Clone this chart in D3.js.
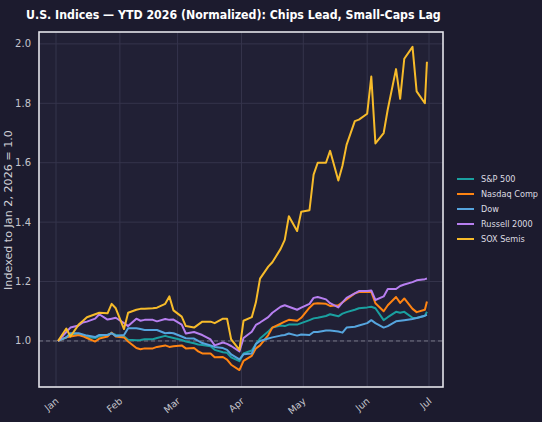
<!DOCTYPE html>
<html>
<head>
<meta charset="utf-8">
<script src="https://cdn.jsdelivr.net/npm/d3@7"></script>
<style>
  html, body { margin: 0; padding: 0; background: #1c1b2e; }
  svg { display: block; font-family: "DejaVu Sans", sans-serif; }
  .cond { font-family: "DejaVu Sans Condensed", "DejaVu Sans", sans-serif; font-stretch: condensed; }
</style>
</head>
<body>
<svg id="chart" width="542" height="422"></svg>
<script>
// sample dates (every other trading day + last day)
const dates = [
  "2026-01-02","2026-01-06","2026-01-08","2026-01-12","2026-01-14","2026-01-16","2026-01-20","2026-01-22","2026-01-26","2026-01-28","2026-01-30",
  "2026-02-03","2026-02-05","2026-02-09","2026-02-11","2026-02-13","2026-02-17","2026-02-19","2026-02-23","2026-02-25","2026-02-27",
  "2026-03-03","2026-03-05","2026-03-09","2026-03-11","2026-03-13","2026-03-17","2026-03-19","2026-03-23","2026-03-25","2026-03-27","2026-03-31",
  "2026-04-02","2026-04-06","2026-04-08","2026-04-10","2026-04-14","2026-04-16","2026-04-20","2026-04-22","2026-04-24","2026-04-28","2026-04-30",
  "2026-05-04","2026-05-06","2026-05-08","2026-05-12","2026-05-14","2026-05-18","2026-05-20","2026-05-22","2026-05-26","2026-05-28",
  "2026-06-01","2026-06-03","2026-06-05","2026-06-09","2026-06-11","2026-06-15","2026-06-17","2026-06-19","2026-06-23","2026-06-25","2026-06-29","2026-06-30"
];

const spx = [1.000,1.012,1.020,1.022,1.018,1.013,1.010,1.016,1.020,1.026,
  1.020,1.016,1.004,1.002,1.003,1.006,1.006,1.010,1.017,1.013,
  1.010,1.003,0.998,0.992,0.988,0.986,0.982,0.970,0.962,0.960,
  0.945,0.932,0.958,0.968,0.990,1.008,1.032,1.045,1.052,1.050,
  1.055,1.055,1.060,1.070,1.076,1.078,1.084,1.090,1.083,1.092,
  1.097,1.105,1.110,1.113,1.115,1.110,1.070,1.080,1.098,1.095,
  1.098,1.078,1.077,1.085,1.098];

const nasdaq = [1.000,1.012,1.015,1.020,1.016,1.010,0.998,1.008,1.015,1.028,
  1.015,1.012,0.998,0.976,0.972,0.975,0.975,0.980,0.985,0.980,
  0.982,0.985,0.975,0.976,0.965,0.958,0.958,0.945,0.946,0.937,
  0.920,0.902,0.933,0.950,0.975,0.985,1.020,1.045,1.058,1.065,
  1.071,1.068,1.078,1.112,1.125,1.127,1.125,1.118,1.120,1.130,
  1.140,1.160,1.165,1.166,1.165,1.127,1.100,1.120,1.148,1.128,
  1.143,1.108,1.097,1.105,1.133];

const dow = [1.000,1.012,1.026,1.026,1.022,1.018,1.013,1.020,1.020,1.026,
  1.017,1.020,1.043,1.043,1.040,1.037,1.037,1.037,1.026,1.028,
  1.026,1.015,1.009,1.008,1.000,0.993,0.985,0.980,0.976,0.970,
  0.955,0.938,0.955,0.958,0.990,1.000,1.008,1.012,1.018,1.020,
  1.025,1.018,1.022,1.020,1.030,1.030,1.035,1.035,1.032,1.028,
  1.045,1.048,1.052,1.060,1.070,1.060,1.045,1.050,1.066,1.068,
  1.070,1.074,1.077,1.085,1.088];

const russell = [1.000,1.030,1.045,1.052,1.062,1.065,1.075,1.090,1.072,1.075,
  1.078,1.060,1.050,1.075,1.068,1.071,1.071,1.066,1.074,1.071,
  1.072,1.055,1.025,1.030,1.025,1.020,1.005,0.985,0.995,0.990,
  0.983,0.965,1.010,1.031,1.054,1.062,1.080,1.095,1.115,1.120,
  1.115,1.105,1.112,1.125,1.145,1.148,1.140,1.127,1.113,1.130,
  1.145,1.160,1.168,1.168,1.170,1.138,1.150,1.175,1.175,1.185,
  1.190,1.198,1.204,1.208,1.210];

const sox = [1.000,1.042,1.015,1.055,1.067,1.080,1.090,1.095,1.093,1.125,
  1.110,1.040,1.095,1.105,1.108,1.108,1.110,1.112,1.125,1.150,
  1.103,1.082,1.050,1.045,1.055,1.065,1.065,1.060,1.075,1.075,
  1.005,0.970,1.068,1.080,1.130,1.210,1.250,1.265,1.310,1.340,
  1.420,1.370,1.435,1.440,1.560,1.600,1.600,1.640,1.540,1.590,
  1.660,1.740,1.745,1.765,1.890,1.665,1.700,1.780,1.915,1.815,
  1.950,1.990,1.840,1.800,1.940];

const seriesNames = ["S&P 500", "Nasdaq Comp", "Dow", "Russell 2000", "SOX Semis"];
const seriesValues = [spx, nasdaq, dow, russell, sox];
const seriesColors = ["#1aa0a0", "#ff8412", "#56a5de", "#b77ff0", "#f7bb2a"];
const yTicks = [1.0, 1.2, 1.4, 1.6, 1.8, 2.0];

const svg = d3.select("#chart");
const W = 542, H = 422;
const plot = { left: 39, top: 32, right: 443, bottom: 387 };

// shrink/grow a text's font so it spans the given width
function fitWidth(sel, target) {
    let size = parseFloat(sel.attr("font-size"));
    let w = sel.node().getComputedTextLength();
    if (w > 0) sel.attr("font-size", (size * target / w).toFixed(2));
    return parseFloat(sel.attr("font-size"));
}

svg.append("rect").attr("width", W).attr("height", H).attr("fill", "#1c1b2e");

let parse = d3.timeParse("%Y-%m-%d");
let dateObjs = dates.map(parse);

let x = d3.scaleTime()
    .domain([new Date(2025, 11, 23, 18), new Date(2026, 6, 7, 19)])
    .range([plot.left, plot.right]);
let y = d3.scaleLinear()
    .domain([0.845, 2.04])
    .range([plot.bottom, plot.top]);

// plot background
svg.append("rect")
    .attr("x", plot.left).attr("y", plot.top)
    .attr("width", plot.right - plot.left).attr("height", plot.bottom - plot.top)
    .attr("fill", "#212035");

// grid
let monthTicks = d3.timeMonth.range(new Date(2026, 0, 1), new Date(2026, 6, 2));
let grid = svg.append("g").attr("stroke", "#35344c").attr("stroke-width", 1);
grid.selectAll("line.v").data(monthTicks).join("line")
    .attr("class", "v")
    .attr("x1", d => x(d)).attr("x2", d => x(d))
    .attr("y1", plot.top).attr("y2", plot.bottom);
grid.selectAll("line.h").data(yTicks).join("line")
    .attr("class", "h")
    .attr("x1", plot.left).attr("x2", plot.right)
    .attr("y1", d => y(d)).attr("y2", d => y(d));

// baseline at 1.0
svg.append("line")
    .attr("x1", plot.left).attr("x2", plot.right)
    .attr("y1", y(1)).attr("y2", y(1))
    .attr("stroke", "#8a8a99").attr("stroke-width", 1)
    .attr("stroke-dasharray", "4,3").attr("opacity", 0.8);

// lines
let line = d3.line()
    .x((d, i) => x(dateObjs[i]))
    .y(d => y(d));

svg.append("g").selectAll("path")
    .data(seriesValues)
    .join("path")
    .attr("d", line)
    .attr("fill", "none")
    .attr("stroke", (d, i) => seriesColors[i])
    .attr("stroke-width", 2)
    .attr("stroke-linejoin", "round");

// frame
svg.append("rect")
    .attr("x", plot.left).attr("y", plot.top)
    .attr("width", plot.right - plot.left).attr("height", plot.bottom - plot.top)
    .attr("fill", "none").attr("stroke", "#e4e4ea").attr("stroke-width", 1.6);

// y axis labels
svg.append("g").selectAll("text").data(yTicks).join("text")
    .attr("x", plot.left - 8)
    .attr("y", d => y(d))
    .attr("dy", "0.35em")
    .attr("text-anchor", "end")
    .attr("fill", "#c4c4cc")
    .attr("font-size", 10)
    .text(d => d.toFixed(1));

// x axis labels
let fmt = d3.timeFormat("%b");
svg.append("g").selectAll("text").data(monthTicks).join("text")
    .attr("transform", d => `translate(${x(d) - 1},${plot.bottom + 10}) rotate(-40)`)
    .attr("text-anchor", "end")
    .attr("dy", "0.7em")
    .attr("fill", "#c4c4cc")
    .attr("font-size", 9.5)
    .text(d => fmt(d));

// y label
let ylab = svg.append("text")
    .attr("transform", `translate(12,210) rotate(-90)`)
    .attr("text-anchor", "middle")
    .attr("fill", "#d0d0d6")
    .attr("font-size", 11)
    .text("Indexed to Jan 2, 2026 = 1.0");
fitWidth(ylab, 160);

// title
let title = svg.append("text")
    .attr("class", "cond")
    .attr("x", 26)
    .attr("y", 19)
    .attr("fill", "#ffffff")
    .attr("font-size", 13)
    .attr("font-weight", "bold")
    .text("U.S. Indices \u2014 YTD 2026 (Normalized): Chips Lead, Small-Caps Lag");
fitWidth(title, 415);

// legend
let legend = svg.append("g").attr("transform", "translate(457,179)");
let rows = legend.selectAll("g").data(seriesNames).join("g")
    .attr("transform", (d, i) => `translate(0,${i * 15})`);
rows.append("line")
    .attr("x1", 0).attr("x2", 17)
    .attr("stroke", (d, i) => seriesColors[i]).attr("stroke-width", 2);
let legendText = rows.append("text")
    .attr("class", "cond")
    .attr("x", 24).attr("dy", "0.35em")
    .attr("fill", "#dcdce2").attr("font-size", 10)
    .text(d => d);
let legendSize = fitWidth(d3.select(legendText.nodes()[1]), 57);
legendText.attr("font-size", legendSize);
</script>
</body>
</html>
